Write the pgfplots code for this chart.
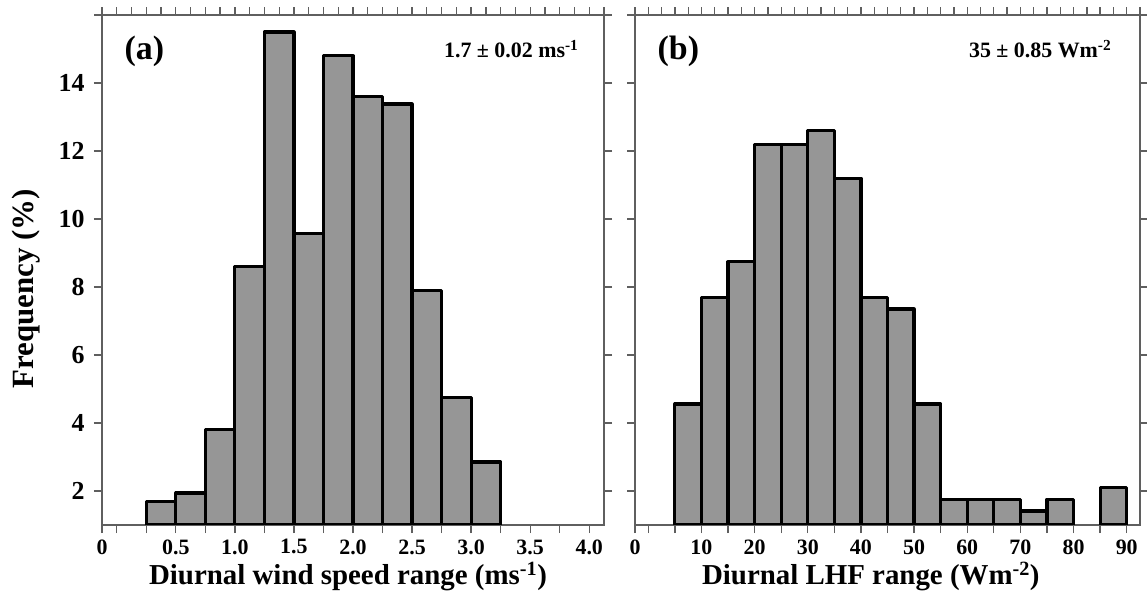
\documentclass[border=0pt]{standalone}
\usepackage{pgfplots}
\pgfplotsset{compat=1.18}
\usepackage{fontspec}
\setmainfont{Liberation Serif}
\definecolor{barfill}{RGB}{150,150,150}
\definecolor{axgray}{RGB}{95,95,95}

\pgfplotsset{
  panel/.style={
    scale only axis, anchor=south west, height=510bp,
    ymin=1, ymax=16,
    axis line style={axgray, line width=1.3bp},
    every tick/.style={axgray, line width=1.3bp},
    tick align=outside,
    major tick length=8bp, minor tick length=8bp,
    xtick pos=left, ytick pos=both,
    ytick={2,4,...,14},
    /pgf/number format/assume math mode=true,
    xticklabel style={font=\fontsize{22}{22}\selectfont\bfseries, yshift=-3bp},
    yticklabel style={font=\fontsize{26}{26}\selectfont\bfseries, xshift=-6bp},
    label style={font=\fontsize{29}{29}\selectfont\bfseries},
  },
  topticks/.style={
    scale only axis, anchor=south west, height=510bp,
    ymin=1, ymax=16,
    axis x line*=top, hide y axis, tick align=outside,
    x axis line style={-, axgray, line width=1.3bp, shorten <=-8bp, shorten >=-8bp},
    every tick/.style={axgray, line width=1.3bp},
    major tick length=7.5bp, xticklabels={},
  },
  bars/.style={ybar, bar shift=0pt, fill=barfill, draw=black,
    line width=3.2bp, line join=round},
}

\begin{document}
\begin{tikzpicture}
\path[use as bounding box] (0,0) rectangle (1147bp,599bp);

% (a) wind speed range
\begin{axis}[panel, at={(102bp,74bp)}, width=502bp,
    xmin=-0.125, xmax=4.125,
    xtick={-0.125,0.5,1.0,1.5,2.0,2.5,3.0,3.5,4.0},
    xticklabels={0,0.5,1.0,1.5,2.0,2.5,3.0,3.5,4.0},
    minor xtick={0,0.25,0.75,1.25,1.75,2.25,2.75,3.25,3.75},
    xlabel={Diurnal wind speed range (ms\textsuperscript{-1})},
    ylabel={Frequency (\%)},
    xlabel style={at={(axis description cs:0.49,-0.1176)}, anchor=base},
    ylabel style={at={(axis description cs:-0.1355,0.463)}, anchor=base,
      font=\fontsize{31}{31}\selectfont\bfseries},
  ]
  \addplot[bars, bar width=0.25] coordinates {
    (0.375,1.68) (0.625,1.94) (0.875,3.82) (1.125,8.6) (1.375,15.5)
    (1.625,9.58) (1.875,14.8) (2.125,13.6) (2.375,13.38) (2.625,7.9)
    (2.875,4.76) (3.125,2.85)};
  \node[anchor=base west, font=\fontsize{34}{34}\selectfont\bfseries]
    at (rel axis cs:0.038,0.912) {(a)};
  \node[anchor=base east, font=\fontsize{22}{22}\selectfont\bfseries]
    at (rel axis cs:0.956,0.916) {1.7 ± 0.02 ms\textsuperscript{-1}};
\end{axis}
\begin{axis}[topticks, at={(102bp,74bp)}, width=502bp,
    xmin=-0.125, xmax=4.125, xtick={-0.125,0,...,4.125}]
  \draw[axgray, line width=1.3bp] (rel axis cs:0,0) -- ++(-8bp,0);
\end{axis}

% (b) LHF range
\begin{axis}[panel, at={(635bp,74bp)}, width=505bp,
    xmin=-2.5, xmax=92.5,
    xtick={-2.5,10,20,30,40,50,60,70,80,90},
    xticklabels={0,10,20,30,40,50,60,70,80,90},
    minor xtick={0,5,15,25,35,45,55,65,75,85},
    yticklabels={},
    xlabel={Diurnal LHF range (Wm\textsuperscript{-2})},
    xlabel style={at={(axis description cs:0.467,-0.1176)}, anchor=base},
  ]
  \addplot[bars, bar width=5] coordinates {
    (7.5,4.56) (12.5,7.7) (17.5,8.74) (22.5,12.2) (27.5,12.2)
    (32.5,12.6) (37.5,11.2) (42.5,7.7) (47.5,7.35) (52.5,4.56)
    (57.5,1.76) (62.5,1.76) (67.5,1.76) (72.5,1.41) (77.5,1.76)
    (87.5,2.1)};
  \node[anchor=base west, font=\fontsize{34}{34}\selectfont\bfseries]
    at (rel axis cs:0.038,0.912) {(b)};
  \node[anchor=base east, font=\fontsize{22}{22}\selectfont\bfseries]
    at (rel axis cs:0.95,0.916) {35 ± 0.85 Wm\textsuperscript{-2}};
\end{axis}
\begin{axis}[topticks, at={(635bp,74bp)}, width=505bp,
    xmin=-2.5, xmax=92.5, xtick={-2.5,0,...,92.5}]
\end{axis}
\end{tikzpicture}
\end{document}
